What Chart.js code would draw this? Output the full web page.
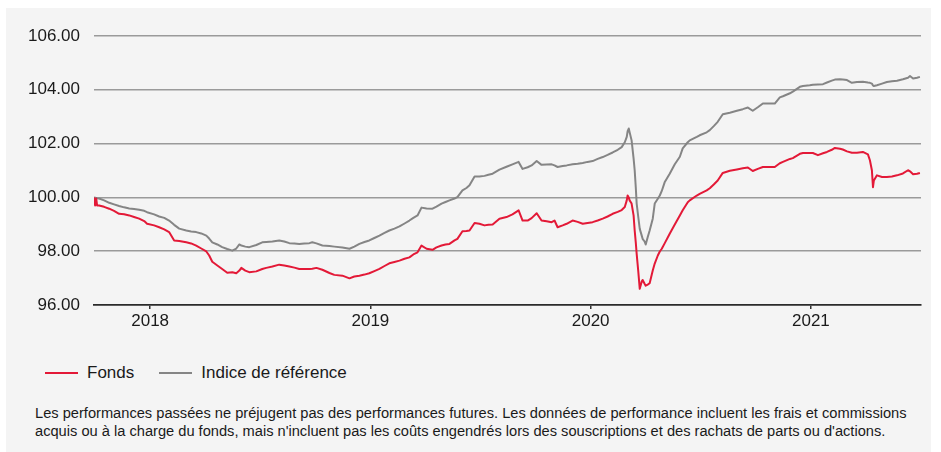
<!DOCTYPE html>
<html>
<head>
<meta charset="utf-8">
<script src="https://cdn.jsdelivr.net/npm/chart.js@4.4.1/dist/chart.umd.min.js"></script>
<style>
  html, body { margin: 0; padding: 0; background: #ffffff; width: 941px; height: 452px; overflow: hidden; }
  body { position: relative; font-family: "Liberation Sans", Arial, sans-serif; }
  #panel { position: absolute; left: 6px; top: 8px; width: 925px; height: 444px; background: #f4f4f4; }
  #wrap { position: absolute; left: 0; top: 0; width: 941px; height: 340px; }
  #legend { position: absolute; left: 45px; top: 362px; height: 22px; font-size: 17px; color: #1a1a1a; display: flex; align-items: center; }
  .item { display: flex; align-items: center; margin-right: 25px; }
  .swatch { display: inline-block; width: 33px; height: 2px; margin-right: 9px; }
  #note { position: absolute; left: 35px; top: 404px; font-size: 14.65px; line-height: 18px; color: #1a1a1a; white-space: nowrap; }
</style>
</head>
<body>
<div id="panel"></div>
<div id="wrap"><canvas id="c" width="941" height="340"></canvas></div>
<div id="legend"></div>
<div id="note">Les performances passées ne préjugent pas des performances futures. Les données de performance incluent les frais et commissions<br>acquis ou à la charge du fonds, mais n'incluent pas les coûts engendrés lors des souscriptions et des rachats de parts ou d'actions.</div>
<script>
// Time in decimal years
const timeline = [
  2017.745, 2017.750, 2017.755, 2017.759, 2017.768, 2017.791, 2017.814, 2017.836, 2017.859, 2017.882,
  2017.905, 2017.927, 2017.950, 2017.973, 2017.986, 2018.018, 2018.041, 2018.064, 2018.086, 2018.109,
  2018.132, 2018.164, 2018.186, 2018.209, 2018.232, 2018.255, 2018.268, 2018.282, 2018.305, 2018.327,
  2018.350, 2018.373, 2018.391, 2018.405, 2018.414, 2018.432, 2018.450, 2018.482, 2018.509, 2018.527,
  2018.555, 2018.586, 2018.609, 2018.632, 2018.655, 2018.677, 2018.700, 2018.723, 2018.736, 2018.755,
  2018.782, 2018.814, 2018.836, 2018.873, 2018.905, 2018.927, 2018.950, 2018.973, 2018.995, 2019.018,
  2019.041, 2019.064, 2019.086, 2019.109, 2019.132, 2019.155, 2019.177, 2019.195, 2019.214, 2019.232,
  2019.255, 2019.282, 2019.300, 2019.323, 2019.341, 2019.359, 2019.382, 2019.395, 2019.418, 2019.436,
  2019.450, 2019.473, 2019.495, 2019.518, 2019.536, 2019.555, 2019.586, 2019.618, 2019.645, 2019.673,
  2019.691, 2019.714, 2019.732, 2019.755, 2019.777, 2019.800, 2019.823, 2019.836, 2019.850, 2019.873,
  2019.891, 2019.918, 2019.941, 2019.964, 2019.986, 2020.009, 2020.032, 2020.055, 2020.077, 2020.100,
  2020.123, 2020.141, 2020.155, 2020.164, 2020.168, 2020.173, 2020.177, 2020.186, 2020.195, 2020.200,
  2020.205, 2020.209, 2020.216, 2020.223, 2020.232, 2020.236, 2020.245, 2020.250, 2020.259, 2020.268,
  2020.282, 2020.291, 2020.305, 2020.314, 2020.323, 2020.336, 2020.359, 2020.382, 2020.405, 2020.418,
  2020.441, 2020.450, 2020.482, 2020.495, 2020.527, 2020.541, 2020.559, 2020.577, 2020.600, 2020.632,
  2020.664, 2020.691, 2020.714, 2020.736, 2020.759, 2020.782, 2020.809, 2020.836, 2020.859, 2020.873,
  2020.905, 2020.918, 2020.950, 2020.964, 2020.995, 2021.009, 2021.032, 2021.055, 2021.073, 2021.095,
  2021.109, 2021.132, 2021.145, 2021.164, 2021.186, 2021.209, 2021.236, 2021.259, 2021.268, 2021.277,
  2021.282, 2021.286, 2021.300, 2021.323, 2021.345, 2021.368, 2021.391, 2021.418, 2021.441, 2021.450,
  2021.464, 2021.482, 2021.495
];

const fonds = [
  100.00, 99.70, 99.96, 99.70, 99.70, 99.65, 99.58, 99.50, 99.39, 99.37,
  99.33, 99.27, 99.21, 99.12, 99.02, 98.96, 98.89, 98.81, 98.71, 98.40,
  98.38, 98.33, 98.29, 98.21, 98.10, 97.99, 97.84, 97.61, 97.47, 97.34,
  97.20, 97.22, 97.18, 97.28, 97.38, 97.28, 97.22, 97.25, 97.34, 97.38,
  97.43, 97.50, 97.47, 97.43, 97.39, 97.34, 97.34, 97.34, 97.35, 97.38,
  97.31, 97.19, 97.12, 97.09, 96.99, 97.06, 97.09, 97.13, 97.18, 97.26,
  97.34, 97.45, 97.55, 97.60, 97.65, 97.72, 97.77, 97.88, 97.96, 98.21,
  98.09, 98.05, 98.14, 98.21, 98.25, 98.27, 98.40, 98.46, 98.74, 98.75,
  98.77, 99.05, 99.02, 98.96, 98.98, 98.99, 99.21, 99.27, 99.37, 99.52,
  99.14, 99.14, 99.23, 99.41, 99.14, 99.11, 99.08, 99.14, 98.89, 98.96,
  99.02, 99.14, 99.09, 99.02, 99.05, 99.08, 99.14, 99.21, 99.29, 99.39,
  99.46, 99.53, 99.64, 99.89, 100.07, 100.00, 99.89, 99.77, 99.33, 98.77,
  98.32, 97.90, 97.28, 96.60, 96.87, 96.93, 96.79, 96.72, 96.76, 96.81,
  97.28, 97.54, 97.84, 97.99, 98.09, 98.29, 98.65, 98.99, 99.33, 99.52,
  99.82, 99.89, 100.07, 100.13, 100.26, 100.34, 100.48, 100.63, 100.91, 100.99,
  101.04, 101.08, 101.11, 100.98, 101.06, 101.13, 101.13, 101.13, 101.27, 101.32,
  101.43, 101.46, 101.62, 101.65, 101.65, 101.65, 101.57, 101.64, 101.69, 101.77,
  101.84, 101.81, 101.78, 101.71, 101.66, 101.66, 101.69, 101.60, 101.38, 101.01,
  100.38, 100.63, 100.82, 100.76, 100.76, 100.78, 100.82, 100.89, 101.01, 100.97,
  100.86, 100.88, 100.91
];

const indice = [
  100.00, 99.99, 99.98, 99.97, 99.96, 99.89, 99.80, 99.74, 99.68, 99.63,
  99.59, 99.57, 99.54, 99.50, 99.45, 99.37, 99.29, 99.24, 99.14, 98.98,
  98.84, 98.77, 98.73, 98.71, 98.66, 98.58, 98.47, 98.33, 98.25, 98.15,
  98.08, 98.02, 98.10, 98.25, 98.21, 98.17, 98.15, 98.23, 98.33, 98.34,
  98.36, 98.40, 98.36, 98.30, 98.29, 98.27, 98.29, 98.30, 98.33, 98.29,
  98.21, 98.19, 98.17, 98.14, 98.09, 98.17, 98.27, 98.34, 98.40, 98.49,
  98.58, 98.68, 98.77, 98.84, 98.92, 99.03, 99.14, 99.24, 99.33, 99.62,
  99.59, 99.58, 99.66, 99.77, 99.83, 99.89, 99.96, 100.01, 100.26, 100.35,
  100.45, 100.78, 100.78, 100.80, 100.84, 100.88, 101.03, 101.14, 101.23, 101.32,
  101.06, 101.12, 101.19, 101.35, 101.21, 101.22, 101.23, 101.19, 101.13, 101.17,
  101.19, 101.23, 101.25, 101.28, 101.32, 101.35, 101.43, 101.50, 101.58, 101.67,
  101.77, 101.87, 102.05, 102.25, 102.46, 102.56, 102.42, 102.12, 101.45, 101.01,
  100.37, 99.77, 99.29, 98.83, 98.58, 98.46, 98.36, 98.25, 98.52, 98.77,
  99.21, 99.77, 99.95, 100.07, 100.24, 100.56, 100.88, 101.23, 101.51, 101.82,
  102.05, 102.12, 102.25, 102.31, 102.42, 102.50, 102.65, 102.81, 103.09, 103.15,
  103.22, 103.28, 103.34, 103.22, 103.35, 103.49, 103.49, 103.49, 103.72, 103.76,
  103.87, 103.93, 104.11, 104.14, 104.17, 104.19, 104.20, 104.21, 104.27, 104.34,
  104.38, 104.39, 104.38, 104.36, 104.26, 104.29, 104.30, 104.27, 104.26, 104.23,
  104.16, 104.14, 104.17, 104.23, 104.29, 104.32, 104.34, 104.39, 104.45, 104.51,
  104.42, 104.45, 104.48
];

const seriesNames = ["Fonds", "Indice de référence"];
const seriesColors = ["#e31937", "#858585"];
const yearTicks = [2018, 2019, 2020, 2021];
const valueTicks = [96, 98, 100, 102, 104, 106];
const xRange = [2017.745, 2021.5];

const toPoints = (vals) => vals.map((v, i) => ({ x: timeline[i], y: v }));

// HTML legend
const leg = document.getElementById('legend');
seriesNames.forEach((n, i) => {
  const it = document.createElement('div');
  it.className = 'item';
  const sw = document.createElement('span');
  sw.className = 'swatch';
  sw.style.background = seriesColors[i];
  const tx = document.createElement('span');
  tx.textContent = n;
  it.appendChild(sw); it.appendChild(tx);
  leg.appendChild(it);
});

const font = { family: "'Liberation Sans', Arial, sans-serif", size: 17 };

new Chart(document.getElementById('c'), {
  type: 'line',
  data: {
    datasets: [
      { label: seriesNames[0], data: toPoints(fonds), borderColor: seriesColors[0], borderWidth: 2, pointRadius: 0, tension: 0, fill: false, borderJoinStyle: 'round' },
      { label: seriesNames[1], data: toPoints(indice), borderColor: seriesColors[1], borderWidth: 2, pointRadius: 0, tension: 0, fill: false, borderJoinStyle: 'round' }
    ]
  },
  options: {
    responsive: false,
    animation: false,
    events: [],
    layout: { padding: { left: 0, right: 20, top: 36, bottom: 0 } },
    plugins: { legend: { display: false }, tooltip: { enabled: false } },
    scales: {
      x: {
        type: 'linear',
        min: xRange[0],
        max: xRange[1],
        afterBuildTicks: (s) => { s.ticks = yearTicks.map(v => ({ value: v })); },
        afterFit: (s) => { s.height = 35; },
        ticks: { color: '#1a1a1a', font: font, padding: 2, maxRotation: 0, autoSkip: false, callback: (v) => String(v) },
        grid: { drawOnChartArea: false, drawTicks: true, tickLength: 4, color: '#333333', lineWidth: 1.5 },
        border: { display: true, color: '#2a2a2a', width: 1.8 }
      },
      y: {
        min: valueTicks[0],
        max: valueTicks[valueTicks.length - 1],
        afterBuildTicks: (s) => { s.ticks = valueTicks.map(v => ({ value: v })); },
        afterFit: (s) => { s.width = 94; },
        ticks: { color: '#1a1a1a', font: font, padding: 14, callback: (v) => Number(v).toFixed(2) },
        grid: { drawTicks: false, color: (ctx) => ctx.tick && ctx.tick.value === valueTicks[0] ? 'rgba(0,0,0,0)' : '#9a9a9a', lineWidth: 1.5 },
        border: { display: false }
      }
    }
  }
});
</script>
</body>
</html>
